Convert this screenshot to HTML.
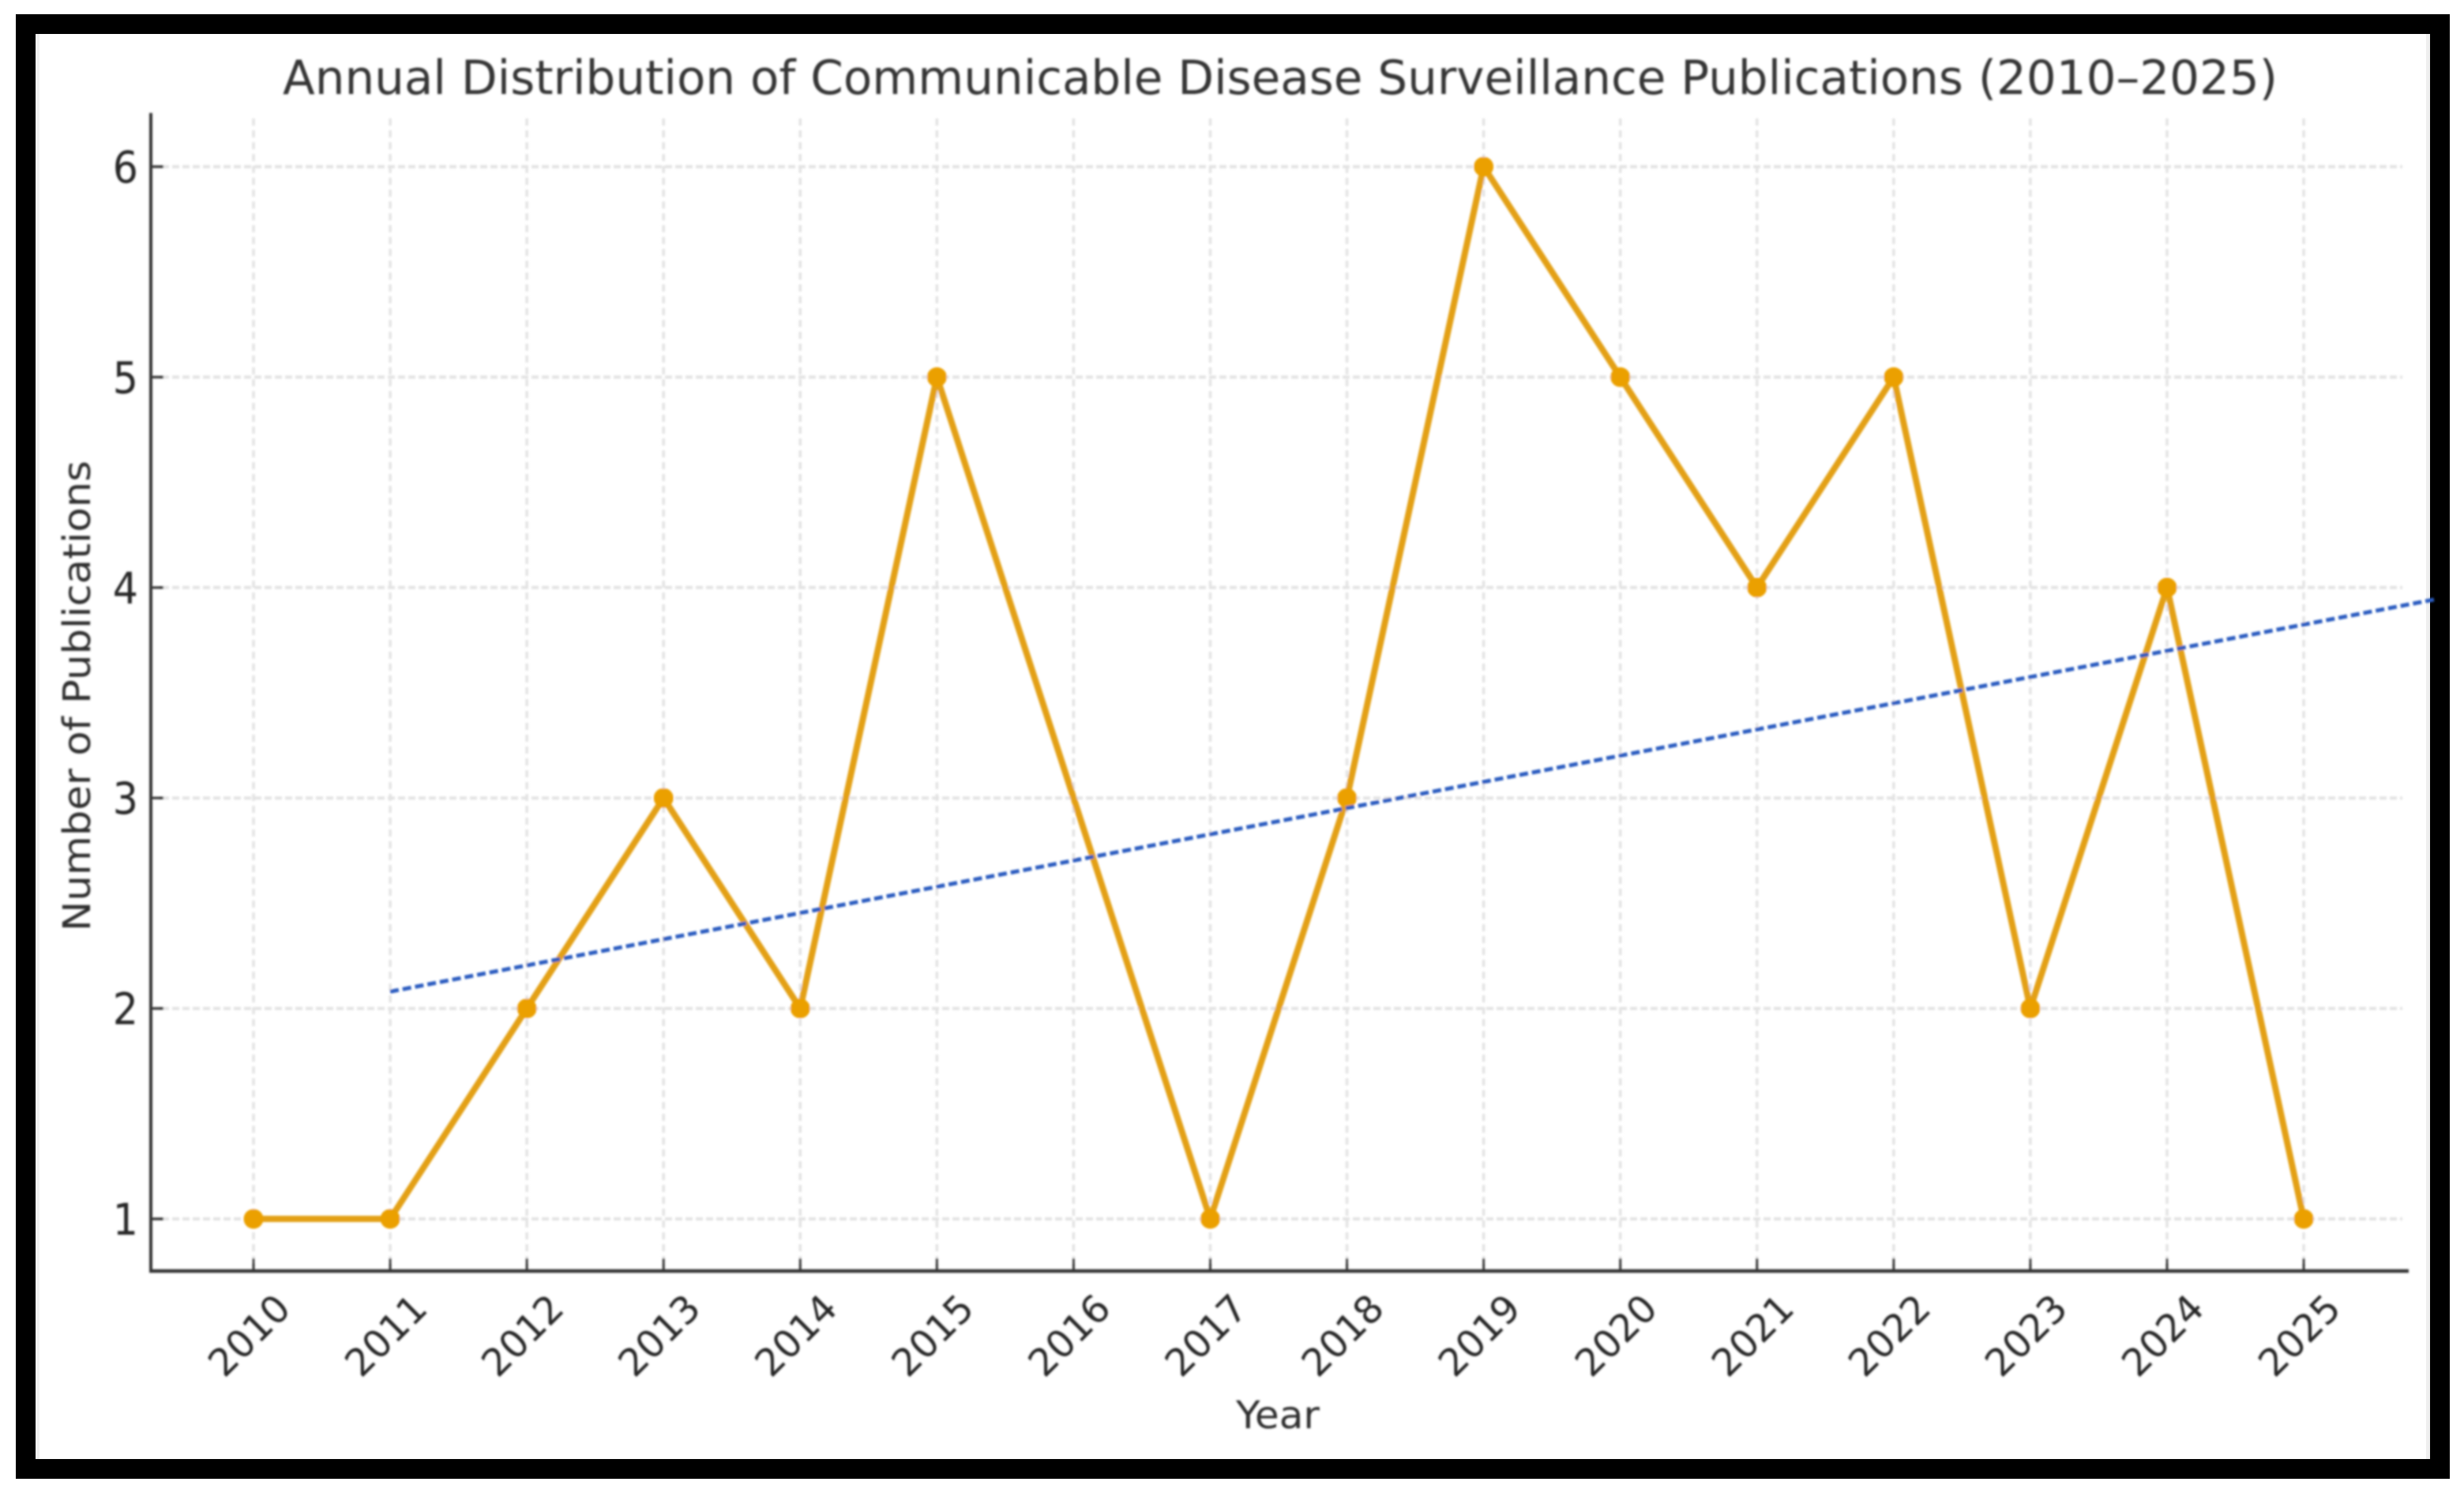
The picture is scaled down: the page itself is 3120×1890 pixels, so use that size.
<!DOCTYPE html>
<html lang="en">
<head>
<meta charset="utf-8">
<title>Annual Distribution of Communicable Disease Surveillance Publications (2010–2025)</title>
<style>
  html, body { margin: 0; padding: 0; background: #fff; }
  svg { display: block; }
  text { font-family: "DejaVu Sans", "Liberation Sans", sans-serif; }
</style>
</head>
<body>
<svg id="chart" xmlns="http://www.w3.org/2000/svg" width="3120" height="1890" viewBox="0 0 3120 1890">
  <defs>
    <filter id="soft" x="-5%" y="-5%" width="110%" height="110%"><feGaussianBlur stdDeviation="1.3"/></filter>
  </defs>
  <rect x="0" y="0" width="3120" height="1890" fill="#ffffff"/>
  <path fill-rule="evenodd" fill="#000000" d="M20 18H3102V1872H20Z M45 43V1847H3077V43Z"/>
  <rect x="45" y="43" width="5" height="1804" fill="#efefef"/>
  <rect x="3072" y="43" width="5" height="1804" fill="#efefef"/>
  <g id="plot" filter="url(#soft)">
    <g id="grid"></g>
    <g id="axes"></g>
    <g id="series"></g>
    <text x="358" y="119" text-anchor="start" font-size="60" textLength="2526" lengthAdjust="spacingAndGlyphs" fill="#363636">Annual Distribution of Communicable Disease Surveillance Publications (2010–2025)</text>
    <text x="1618" y="1808" text-anchor="middle" font-size="48" textLength="106" lengthAdjust="spacingAndGlyphs" fill="#2e2e2e">Year</text>
    <text transform="translate(114 881) rotate(-90)" text-anchor="middle" font-size="48" textLength="596" lengthAdjust="spacingAndGlyphs" fill="#2e2e2e">Number of Publications</text>
  </g>
</svg>
<script>
const years = [2010, 2011, 2012, 2013, 2014, 2015, 2016, 2017, 2018, 2019, 2020, 2021, 2022, 2023, 2024, 2025];
const publications = [1, 1, 2, 3, 2, 5, null, 1, 3, 6, 5, 4, 5, 2, 4, 1];
const yTicks = [1, 2, 3, 4, 5, 6];
const trendYears = [2011, 2025.97];
const trendValues = [2.08, 3.945];

const NS = 'http://www.w3.org/2000/svg';
function xScale(year) { return 321 + (year - 2010) * 173.07; }
function yScale(value) { return 1543 - (value - 1) * 266.4; }
function make(tag, parent, attrs) {
  const el = document.createElementNS(NS, tag);
  for (const k in attrs) el.setAttribute(k, attrs[k]);
  parent.appendChild(el);
  return el;
}
const gridLayer = document.getElementById('grid');
const axesLayer = document.getElementById('axes');
const seriesLayer = document.getElementById('series');
const axisColor = '#363636';

years.forEach(function (year) {
  const x = xScale(year);
  const line = make('line', gridLayer, { x1: x, x2: x, y1: 150, y2: 1600, stroke: '#e3e3e3', 'stroke-width': 3.5, 'stroke-dasharray': '9 6' });
  
  
  const tick = make('line', axesLayer, { x1: x, x2: x, y1: 1593, y2: 1609, stroke: axisColor, 'stroke-width': 3 });
  
  
  const label = make('text', axesLayer, { transform: 'translate(' + (x - 5) + ' 1691) rotate(-45)', 'text-anchor': 'middle', 'dominant-baseline': 'central', 'font-size': 48, fill: '#262626' });
  label.textContent = year;
  
  
});

yTicks.forEach(function (value) {
  const y = yScale(value);
  const line = make('line', gridLayer, { x1: 192, x2: 3042, y1: y, y2: y, stroke: '#e3e3e3', 'stroke-width': 4, 'stroke-dasharray': '9 4' });
  
  
  const tick = make('line', axesLayer, { x1: 191, x2: 207, y1: y, y2: y, stroke: axisColor, 'stroke-width': 3.5 });
  
  
  const label = make('text', axesLayer, { transform: 'translate(175 ' + (y + 20) + ') scale(0.92 1)', 'text-anchor': 'end', 'font-size': 55, fill: '#262626' });
  label.textContent = value;
  
  
});

const ySpine = make('line', axesLayer, { x1: 191, x2: 191, y1: 143, y2: 1611, stroke: axisColor, 'stroke-width': 4 });


const xSpine = make('line', axesLayer, { x1: 189, x2: 3050, y1: 1609, y2: 1609, stroke: axisColor, 'stroke-width': 4.5 });



const validPoints = [];
years.forEach(function (year, i) {
  if (publications[i] !== null) validPoints.push([xScale(year), yScale(publications[i])]);
});
const seriesLine = make('polyline', seriesLayer, { points: validPoints.map(function (p) { return p.join(','); }).join(' '), fill: 'none', stroke: '#E3A012', 'stroke-width': 8, 'stroke-linejoin': 'round' });


validPoints.forEach(function (p) {
  const dot = make('circle', seriesLayer, { cx: p[0], cy: p[1], r: 12.5, fill: '#EBA000' });
  
  
});

const trendLine = make('line', seriesLayer, {
  x1: xScale(trendYears[0]), y1: yScale(trendValues[0]),
  x2: xScale(trendYears[1]), y2: yScale(trendValues[1]),
  stroke: '#2A5CC0', 'stroke-width': 5, 'stroke-dasharray': '11 5'
});


</script>
</body>
</html>
